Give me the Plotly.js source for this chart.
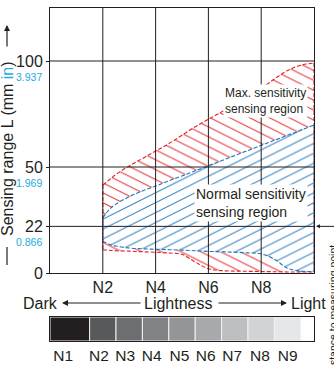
<!DOCTYPE html>
<html><head><meta charset="utf-8">
<script src="https://cdn.plot.ly/plotly-3.0.1.min.js"></script>
<style>html,body{margin:0;padding:0;background:#fff;overflow:hidden}#chart{width:334px;height:365px}</style>
</head><body><div id="chart"></div>
<script>
// ---- data ----
const xs       = [2, 2.25, 2.5, 3, 3.5, 4, 4.5, 5, 5.5, 6, 6.5, 7, 7.5, 8, 8.5, 9, 9.5, 10];
const redUpper = [41.5, 44, 46.5, 50.5, 54, 57.5, 61, 65, 69, 72.5, 76, 79.5, 83, 87, 91.5, 95.5, 98, 99];
const blueUpper= [26, 30, 32.5, 36, 38.7, 41, 43.5, 45.8, 48.2, 50.6, 53, 55.4, 57.8, 60.2, 62.6, 65, 67.4, 69.8];
const blueLower= [15, 13.5, 12.7, 11.8, 11.4, 11.2, 11, 10.8, 10.5, 10.2, 10, 9.8, 9.5, 9, 6.5, 2.2, 0.9, 0.7];
const redLower = [11, 10.7, 10.5, 10.3, 10, 9.8, 9.4, 8.8, 5.2, 2, 1.1, 0.9, 0.8, 0.7, 0.6, 0.5, 0.5, 0.5];

const xTickVals = [2, 4, 6, 8];
const xTickText = ['N2', 'N4', 'N6', 'N8'];
const yTickVals = [0, 22, 50, 100];
const yTickText = ['0', '22', '50', '100'];
const inchText  = ['', '0.866', '1.969', '3.937'];

const lightness  = [1, 2, 3, 4, 5, 6, 7, 8, 9];
const grayLabels = ['N1', 'N2', 'N3', 'N4', 'N5', 'N6', 'N7', 'N8', 'N9'];
const grayColors = ['#231f20', '#58595b', '#6d6e71', '#808285', '#939598', '#a7a9ac', '#bcbec0', '#d1d3d4', '#e6e7e8'];
const grayLabelPos = [0.5, 1.85, 2.85, 3.85, 4.9, 5.9, 6.9, 7.95, 9.0];

// ---- styles ----
const RED = '#e31e24', BLUE = '#1c75bc', CYAN = '#27aae1', INK = '#231f20';
const FONT = 'Liberation Sans, Arial, sans-serif';
const xRange = [0, 10], yRange = [0, 125];
const SH = 'spline';

const pat = (shape, color) => ({shape: shape, fgcolor: color, bgcolor: 'rgba(0,0,0,0)', size: 7, solidity: 0.11});
const dash = '4px,2px';

const traces = [
  {x: xs, y: redLower, mode: 'lines', line: {color: RED, width: 1.1, dash: dash, shape: SH}, hoverinfo: 'skip'},
  {x: xs, y: blueLower, mode: 'lines', line: {color: BLUE, width: 1.1, dash: dash, shape: SH}, fill: 'tonexty',
   fillcolor: 'rgba(255,255,255,0)', fillpattern: pat('\\', RED), hoverinfo: 'skip'},
  {x: xs, y: blueUpper, mode: 'lines', line: {color: BLUE, width: 1.1, dash: dash, shape: SH}, fill: 'tonexty',
   fillcolor: 'rgba(255,255,255,0)', fillpattern: pat('/', BLUE), hoverinfo: 'skip'},
  {x: xs, y: redUpper, mode: 'lines', line: {color: RED, width: 1.1, dash: dash, shape: SH}, fill: 'tonexty',
   fillcolor: 'rgba(255,255,255,0)', fillpattern: pat('\\', RED), hoverinfo: 'skip'},
];
// vertical end edges of regions, derived from the boundary arrays
const n = xs.length - 1;
[[0, RED, redUpper, redLower], [n, RED, redUpper, redLower], [0, BLUE, blueUpper, blueLower], [n, BLUE, blueUpper, blueLower]]
  .forEach(([i, c, up, lo]) => traces.push({x: [xs[i], xs[i]], y: [up[i], lo[i]], mode: 'lines',
    line: {color: c, width: 1.1, dash: dash}, hoverinfo: 'skip'}));

// gray scale bar cells
const cellL = [], cellR = [], cellC = [];
lightness.forEach((k, i) => { cellL.push(i === 0 ? xRange[0] : k - 0.5); cellR.push(k + 0.5); cellC.push(grayColors[i]); });
cellL.push(lightness[lightness.length - 1] + 0.5); cellR.push(xRange[1]); cellC.push('#ffffff');
traces.push({type: 'bar', xaxis: 'x2', yaxis: 'y2',
  x: cellL.map((l, i) => (l + cellR[i]) / 2), width: cellL.map((l, i) => cellR[i] - l),
  y: cellL.map(() => 1), base: 0,
  marker: {color: cellC, line: {color: '#f2f2f2', width: 1}}, hoverinfo: 'skip'});

// layout geometry
const W = 334, H = 365, mL = 50, mR = 20, mT = 8, mB = 20;
const pw = W - mL - mR, ph = H - mT - mB;
const py = p => (H - mB - p) / ph;        // page pixel y -> paper y
const px = p => (p - mL) / pw;            // page pixel x -> paper x

const shapes = [];
yTickVals.filter(v => v > 0).forEach(v => shapes.push({type: 'line', xref: 'x', yref: 'y', x0: xRange[0], x1: xRange[1], y0: v, y1: v, line: {color: INK, width: 1}, layer: 'above'}));
xTickVals.forEach(v => shapes.push({type: 'line', xref: 'x', yref: 'y', x0: v, x1: v, y0: yRange[0], y1: yRange[1], line: {color: INK, width: 1}, layer: 'above'}));
// y title lower dash
shapes.push({type: 'line', xref: 'paper', yref: 'paper', x0: px(7), x1: px(7), y0: py(265), y1: py(247), line: {color: INK, width: 1.2}});

const T = (o) => Object.assign({xref: 'paper', yref: 'paper', xanchor: 'center', yanchor: 'middle', showarrow: false}, o);
const annotations = [];
yTickVals.forEach((v, i) => { if (inchText[i]) annotations.push(T({yref: 'y', x: px(44), y: v, yshift: -16, xanchor: 'right', text: inchText[i], font: {family: FONT, size: 10.5, color: CYAN}})); });
annotations.push(
  T({xref: 'x', yref: 'y', x: 6.56, y: 81, xanchor: 'left', align: 'left',
   text: 'Max. sensitivity<br>sensing region', bgcolor: '#fff', borderpad: 1, font: {family: FONT, size: 12, color: INK}}),
  T({xref: 'x', yref: 'y', x: 5.45, y: 33, xanchor: 'left', align: 'left',
   text: 'Normal sensitivity<br>sensing region', bgcolor: '#fff', borderpad: 1, font: {family: FONT, size: 14, color: INK}}),
  T({x: px(7), y: py(149), textangle: -90,
   text: 'Sensing range L (mm <span style="color:' + CYAN + '">in</span>)', font: {family: FONT, size: 16, color: INK}}),
  {xref: 'paper', yref: 'paper', x: px(7), y: py(25), ax: 0, ay: 23, showarrow: true, arrowhead: 2, arrowsize: 1, arrowwidth: 1.2, arrowcolor: INK, text: ''},
  T({x: px(60), y: py(303), xanchor: 'right', text: 'Dark', font: {family: FONT, size: 16, color: INK}}),
  {xref: 'paper', yref: 'paper', x: px(62), y: py(303), ax: 80, ay: 0, showarrow: true, arrowhead: 2, arrowsize: 1, arrowwidth: 1.2, arrowcolor: INK, text: ''},
  T({x: px(178.5), y: py(303), text: 'Lightness', font: {family: FONT, size: 16, color: INK}}),
  {xref: 'paper', yref: 'paper', x: px(287), y: py(303), ax: -70, ay: 0, showarrow: true, arrowhead: 2, arrowsize: 1, arrowwidth: 1.2, arrowcolor: INK, text: ''},
  T({x: px(289), y: py(303), xanchor: 'left', text: 'Light', font: {family: FONT, size: 16, color: INK}}),
  {xref: 'x', yref: 'y', x: xRange[1], y: 22, ax: 22, ay: 0, xshift: 2, showarrow: true, arrowhead: 2, arrowsize: 0.8, arrowwidth: 1, arrowcolor: INK, text: ''},
  T({x: px(333), y: py(310), textangle: -90, text: 'Distance to measuring point', font: {family: FONT, size: 10.5, color: INK}})
);

const layout = {
  width: W, height: H, margin: {l: mL, r: mR, t: mT, b: mB}, paper_bgcolor: '#fff', plot_bgcolor: '#fff',
  showlegend: false, font: {family: FONT, color: INK},
  xaxis: {range: xRange, domain: [0, 1], anchor: 'y', tickvals: xTickVals, ticktext: xTickText, showgrid: false, zeroline: false,
    showline: true, mirror: true, linecolor: INK, linewidth: 1, ticks: '', tickfont: {size: 16, color: INK}},
  yaxis: {range: yRange, domain: [py(273), 1], tickvals: yTickVals, ticktext: yTickText, showgrid: false, zeroline: false,
    showline: true, mirror: true, linecolor: INK, linewidth: 1, ticks: 'outside', ticklen: 3, tickcolor: INK, tickfont: {size: 16, color: INK}},
  xaxis2: {range: xRange, domain: [0, 1], anchor: 'y2', tickvals: grayLabelPos, ticktext: grayLabels, showgrid: false, zeroline: false,
    showline: true, mirror: true, linecolor: INK, linewidth: 1, ticks: '', tickfont: {size: 15.5, color: INK}},
  yaxis2: {range: [0, 1], domain: [py(341), py(317)], anchor: 'x2', showticklabels: false, showgrid: false, zeroline: false,
    showline: true, mirror: true, linecolor: INK, linewidth: 1, ticks: ''},
  shapes: shapes, annotations: annotations
};

Plotly.newPlot('chart', traces, layout, {staticPlot: true, displayModeBar: false}).then(() => {
  // flatten the diagonal hatching to match the shallow reference angle
  document.querySelectorAll('pattern').forEach(p => p.setAttribute('patternTransform', 'scale(2,1)'));
});
</script></body></html>
